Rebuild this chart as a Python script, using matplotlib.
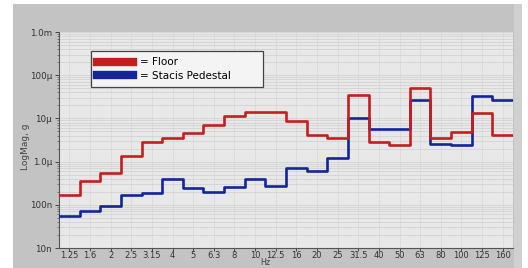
import matplotlib
matplotlib.use("Agg")
import matplotlib.pyplot as plt
from matplotlib.lines import Line2D
from matplotlib.patches import Rectangle
import numpy as np

# third-octave bands (Hz)
bands = ["1.25", "1.6", "2", "2.5", "3.15", "4", "5", "6.3", "8", "10", "12.5",
         "16", "20", "25", "31.5", "40", "50", "63", "80", "100", "125", "160"]

# LogMag, g
floor = [1.71e-7, 3.56e-7, 5.36e-7, 1.37e-6, 2.89e-6, 3.52e-6, 4.52e-6, 6.92e-6,
         1.16e-5, 1.38e-5, 1.38e-5, 8.7e-6, 4.2e-6, 3.57e-6, 3.43e-5, 2.84e-6,
         2.46e-6, 5.14e-5, 3.57e-6, 4.84e-6, 1.31e-5, 4.2e-6]
stacis = [5.5e-8, 7.3e-8, 9.5e-8, 1.69e-7, 1.91e-7, 3.96e-7, 2.45e-7, 1.98e-7,
          2.62e-7, 3.96e-7, 2.72e-7, 7.2e-7, 6.05e-7, 1.23e-6, 1.04e-5, 5.6e-6,
          5.6e-6, 2.67e-5, 2.55e-6, 2.46e-6, 3.35e-5, 2.67e-5]

ytick_vals = [1e-8, 1e-7, 1e-6, 1e-5, 1e-4, 1e-3]
ytick_labels = ["10n", "100n", "1.0µ", "10µ", "100µ", "1.0m"]

fig = plt.figure(figsize=(5.28, 2.68), dpi=100)
fig.patch.set_facecolor("white")
fig.patches.append(Rectangle((13 / 528, 0), 509 / 528, 264 / 268,
                             transform=fig.transFigure, facecolor="#c3c3c3",
                             edgecolor="none", zorder=-10))
fig.patches.append(Rectangle((514 / 528, 0), 8 / 528, 264 / 268,
                             transform=fig.transFigure, facecolor="#d0d0d0",
                             edgecolor="none", zorder=-9))

ax = fig.add_axes([59 / 528, 20 / 268, 454 / 528, 216 / 268])
ax.set_facecolor("#e8e8e8")

n = len(bands)
edges = np.arange(n + 1)
ax.step(edges, stacis + [stacis[-1]], where="post", color="#14249a", lw=1.9, zorder=3)
ax.step(edges, floor + [floor[-1]], where="post", color="#c41e1e", lw=1.9, zorder=4)

ax.set_yscale("log")
ax.set_ylim(1e-8, 1e-3)
ax.set_xlim(0, n)
ax.set_yticks(ytick_vals)
ax.set_yticklabels(ytick_labels)
ax.set_xticks(np.arange(n) + 0.5)
ax.set_xticklabels(bands)
ax.tick_params(axis="both", labelsize=6.3, colors="#333333", length=3, width=0.6, pad=2)
ax.tick_params(axis="x", labelsize=6, length=2, pad=0.5)
ax.tick_params(axis="y", which="minor", length=1.5, width=0.5, colors="#555555")
ax.grid(True, which="both", axis="y", color="#d3d3d3", lw=0.6)
ax.grid(True, which="major", axis="x", color="#dadada", lw=0.6)
ax.set_axisbelow(True)

for s in ["top", "right"]:
    ax.spines[s].set_visible(False)
for s in ["left", "bottom"]:
    ax.spines[s].set_color("#555555")
    ax.spines[s].set_linewidth(0.8)

ax.set_ylabel("LogMag, g", fontsize=6.5, color="#444444")
ax.yaxis.set_label_coords(-29 / 454, 0.47)
fig.text(265 / 528, 0.6 / 268, "Hz", fontsize=5.8, color="#444444",
         ha="center", va="bottom")

handles = [Line2D([], [], color="#c41e1e", lw=6),
           Line2D([], [], color="#14249a", lw=6)]
leg = ax.legend(handles, ["= Floor", "= Stacis Pedestal        "], loc="upper left",
                bbox_to_anchor=(27 / 454, 1 - 14 / 216), fontsize=7.5,
                handlelength=3.4, handletextpad=0.7, labelspacing=0.3,
                fancybox=False, shadow=False, borderpad=0.6, framealpha=1)
leg.get_frame().set_edgecolor("#444444")
leg.get_frame().set_facecolor("#f4f4f4")
leg.get_frame().set_linewidth(0.9)

fig.savefig("out.png", dpi=100)
